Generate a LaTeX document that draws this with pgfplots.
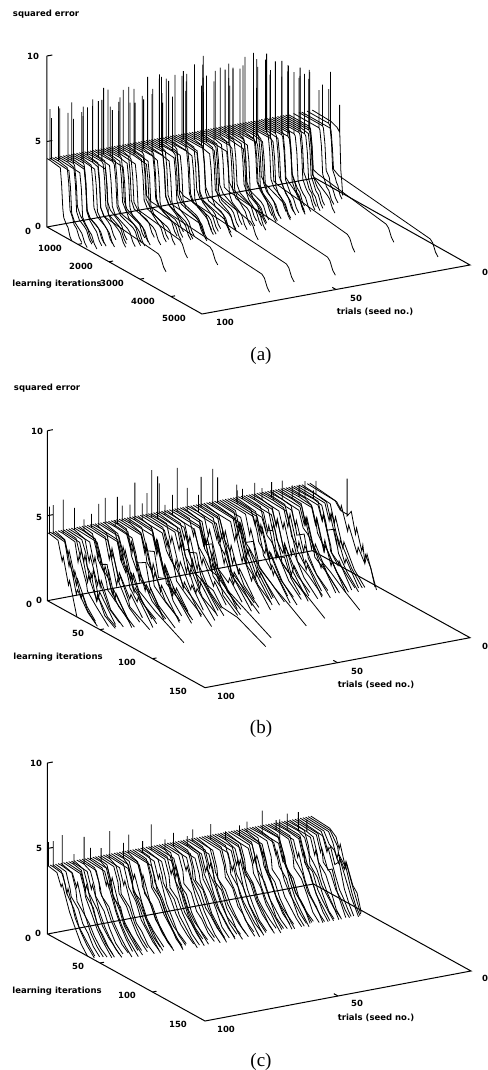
\documentclass[border=0pt]{standalone}
\usepackage{pgfplots}
\pgfplotsset{compat=1.18}
\usepackage{fontspec}
\setmainfont{Liberation Serif}
\newfontfamily\lab{DejaVu Sans Bold}
\pgfplotsset{l/.style={black,line width=0.8pt,no markers},ax/.style={black,line width=1pt,no markers}}
\newcommand\C[2]{\addplot3[l] table[row sep=\\,header=false,x expr=#1,y index=0,z index=1]{#2};}
\newcommand\T[3]{\node[font=\lab\fontsize{8.5}{9}\selectfont,inner sep=0pt] at (#1pt,1070pt-#2pt) {#3};}
\begin{document}
\begin{tikzpicture}[x=1pt,y=1pt]
\path[use as bounding box] (0,0) rectangle (487pt,1070pt);
% ---------- (a)
\begin{axis}[at={(315pt,892pt)},anchor=origin,hide axis,clip=false,x={(-2.68pt,-0.49pt)},y={(0.031pt,-0.0174pt)},z={(0pt,17.1pt)},xmin=0,xmax=100,ymin=0,ymax=5000,zmin=0,zmax=10]
\addplot3[ax] coordinates {(100,0,10)(100,0,0)(100,5000,0)(0,5000,0)(0,0,0)(100,0,0)};
\addplot3[ax] coordinates {(100,0,10)(98,0,10)};
\addplot3[ax] coordinates {(100,0,5)(98,0,5)};
\addplot3[ax] coordinates {(100,1000,0)(98.5,1000,0)};
\addplot3[ax] coordinates {(100,2000,0)(98.5,2000,0)};
\addplot3[ax] coordinates {(100,3000,0)(98.5,3000,0)};
\addplot3[ax] coordinates {(100,4000,0)(98.5,4000,0)};
\addplot3[ax] coordinates {(50,5000,0)(50,4880,0)};
\C{100}{0 4\\100 4\\100 7\\100 4\\430 3.9\\470 3\\510 1.6\\540 1.1\\620 .8\\680 .65\\740 .2\\800 0\\}
\C{99}{0 4\\60 4\\60 6.4\\60 4\\620 3.9\\670 3\\710 1.5\\800 1.1\\960 .8\\1040 .65\\1130 .2\\1210 0\\}
\C{98}{0 4\\200 4\\200 7.2\\200 4\\480 3.9\\530 3\\570 1.5\\660 1.1\\700 .8\\780 .65\\870 .2\\950 0\\}
\C{97}{0 4\\150 4\\150 7\\150 4\\800 3.9\\850 3\\890 1.4\\980 1.1\\1100 .8\\1180 .65\\1270 .2\\1350 0\\}
\C{96}{0 4\\330 4\\330 6.9\\330 4\\520 3.9\\570 3\\610 1.4\\700 1\\850 .8\\930 .65\\1020 .2\\1100 0\\}
\C{95}{0 4\\420 4\\420 6.6\\420 4\\460 3.9\\510 3\\550 1.6\\640 1.2\\800 .8\\880 .65\\970 .2\\1050 0\\}
\C{94}{0 4\\280 4\\280 7.4\\280 4\\680 3.9\\730 3\\770 1.5\\860 1.1\\1000 .8\\1080 .65\\1170 .2\\1250 0\\}
\C{93}{0 4\\250 4\\250 6.2\\250 4\\600 3.9\\650 3\\690 1.5\\790 1.1\\1050 .8\\1130 .65\\1220 .2\\1300 0\\}
\C{92}{0 4\\480 4\\480 7.3\\480 4\\510 3.9\\560 3\\600 1.3\\700 1\\900 .8\\980 .65\\1070 .2\\1150 0\\}
\C{91}{0 4\\340 4\\340 6.8\\340 4\\760 3.9\\810 3\\850 1.5\\950 1.2\\1150 .8\\1230 .65\\1320 .2\\1400 0\\}
\C{90}{0 4\\300 4\\300 6.5\\300 4\\560 3.9\\610 3\\650 1.5\\750 1.1\\1000 .8\\1080 .65\\1170 .2\\1250 0\\}
\C{89}{0 4\\520 4\\520 7.3\\520 4\\690 3.9\\740 3\\780 1.6\\900 1.2\\2640 .8\\2720 .65\\2810 .2\\2888 0\\}
\C{88}{0 4\\430 4\\430 7\\430 4\\850 3.9\\900 3\\940 1.4\\1030 1.1\\1250 .8\\1330 .65\\1420 .2\\1500 0\\}
\C{87}{0 4\\180 4\\180 6.8\\180 4\\520 3.9\\570 3\\610 1.4\\700 1\\850 .8\\930 .65\\1020 .2\\1100 0\\}
\C{86}{0 4\\560 4\\560 7.6\\560 4\\600 3.9\\650 3\\690 1.5\\790 1.1\\1100 .8\\1180 .65\\1270 .2\\1350 0\\}
\C{85}{0 4\\360 4\\360 7.3\\360 4\\720 3.9\\770 3\\810 1.6\\900 1.2\\1300 .8\\1380 .65\\1470 .2\\1550 0\\}
\C{84}{0 4\\90 4\\90 7.1\\90 4\\480 3.9\\530 3\\570 1.6\\660 1.2\\950 .8\\1030 .65\\1120 .2\\1200 0\\}
\C{83}{0 4\\640 4\\640 7\\640 4\\700 3.9\\750 3\\790 1.5\\900 1.1\\1300 .8\\1380 .65\\1470 .2\\1550 0\\}
\C{82}{0 4\\270 4\\270 7.9\\270 4\\900 3.9\\950 3\\990 1.5\\1080 1.1\\1350 .8\\1430 .65\\1520 .2\\1600 0\\}
\C{81}{0 4\\400 4\\400 6.9\\400 4\\560 3.9\\610 3\\650 1.4\\750 1\\1150 .8\\1230 .65\\1320 .2\\1400 0\\}
\C{80}{0 4\\240 4\\240 7.7\\240 4\\620 3.9\\670 3\\710 1.6\\820 1.2\\1350 .8\\1430 .65\\1520 .2\\1600 0\\}
\C{79}{0 4\\500 4\\500 6.7\\500 4\\770 3.9\\820 3\\860 1.4\\950 1\\1200 .8\\1280 .65\\1370 .2\\1450 0\\}
\C{78}{0 4\\450 4\\450 7.4\\450 4\\500 3.9\\550 3\\590 1.5\\680 1.1\\1000 .8\\1080 .65\\1170 .2\\1250 0\\}
\C{77}{0 4\\330 4\\330 7\\330 4\\860 3.9\\910 3\\950 1.5\\1040 1.1\\1430 .8\\1510 .65\\1600 .2\\1680 0\\}
\C{76}{0 4\\600 4\\600 7.2\\600 4\\640 3.9\\690 3\\730 1.5\\850 1.2\\2210 .8\\2290 .65\\2380 .2\\2458 0\\}
\C{75}{0 4\\300 4\\300 7.6\\300 4\\470 3.9\\520 3\\560 1.4\\650 1\\1050 .8\\1130 .65\\1220 .2\\1300 0\\}
\C{74}{0 4\\560 4\\560 7.9\\560 4\\960 3.9\\1010 3\\1050 1.6\\1140 1.2\\1350 .8\\1430 .65\\1520 .2\\1600 0\\}
\C{73}{0 4\\500 4\\500 7\\500 4\\710 3.9\\760 3\\800 1.6\\910 1.2\\1550 .8\\1630 .65\\1720 .2\\1800 0\\}
\C{72}{0 4\\420 4\\420 6.9\\420 4\\840 3.9\\890 3\\930 1.4\\1020 1\\1250 .8\\1330 .65\\1420 .2\\1500 0\\}
\C{71}{0 4\\130 4\\130 7.5\\130 4\\600 3.9\\650 3\\690 1.5\\800 1.2\\2750 .8\\2830 .65\\2920 .2\\3000 0\\}
\C{70}{0 4\\480 4\\480 7.3\\480 4\\530 3.9\\580 3\\620 1.6\\750 1.4\\4340 .8\\4420 .65\\4510 .2\\4587 0\\}
\C{69}{0 4\\710 4\\710 7.6\\710 4\\880 3.9\\930 3\\970 1.5\\1060 1.1\\1400 .8\\1480 .65\\1570 .2\\1650 0\\}
\C{68}{0 4\\350 4\\350 6.9\\350 4\\650 3.9\\700 3\\740 1.5\\850 1.1\\1180 .8\\1260 .65\\1350 .2\\1430 0\\}
\C{67}{0 4\\560 4\\560 7.7\\560 4\\590 3.9\\640 3\\680 1.4\\780 1\\1280 .8\\1360 .65\\1450 .2\\1530 0\\}
\C{66}{0 4\\790 4\\790 7.1\\790 4\\1000 3.9\\1050 3\\1090 1.6\\1180 1.2\\1450 .8\\1530 .65\\1620 .2\\1700 0\\}
\C{65}{0 4\\220 4\\220 8\\220 4\\720 3.9\\770 3\\810 1.6\\920 1.2\\1430 .8\\1510 .65\\1600 .2\\1680 0\\}
\C{64}{0 4\\600 4\\600 7.4\\600 4\\620 3.9\\670 3\\710 1.5\\810 1.1\\1040 .8\\1120 .65\\1210 .2\\1290 0\\}
\C{63}{0 4\\430 4\\430 8.3\\430 4\\900 3.9\\950 3\\990 1.5\\1080 1.1\\1300 .8\\1380 .65\\1470 .2\\1550 0\\}
\C{62}{0 4\\410 4\\410 8.1\\410 4\\530 3.9\\580 3\\620 1.4\\720 1\\1620 .8\\1700 .65\\1790 .2\\1870 0\\}
\C{61}{0 4\\680 4\\680 7.2\\680 4\\760 3.9\\810 3\\850 1.6\\960 1.2\\1550 .8\\1630 .65\\1720 .2\\1800 0\\}
\C{60}{0 4\\160 4\\160 7.7\\160 4\\840 3.9\\890 3\\930 1.4\\1020 1\\1350 .8\\1430 .65\\1520 .2\\1600 0\\}
\C{59}{0 4\\300 4\\300 7.8\\300 4\\640 3.9\\690 3\\730 1.5\\830 1.1\\1280 .8\\1360 .65\\1450 .2\\1530 0\\}
\C{58}{0 4\\500 4\\500 8.2\\500 4\\560 3.9\\610 3\\650 1.6\\780 1.4\\4090 .8\\4170 .65\\4260 .2\\4343 0\\}
\C{57}{0 4\\760 4\\760 7.5\\760 4\\960 3.9\\1010 3\\1050 1.5\\1140 1.1\\1400 .8\\1480 .65\\1570 .2\\1650 0\\}
\C{56}{0 4\\120 4\\120 7.4\\120 4\\700 3.9\\750 3\\790 1.5\\890 1.1\\1400 .8\\1480 .65\\1570 .2\\1650 0\\}
\C{55}{0 4\\620 4\\620 8.3\\620 4\\650 3.9\\700 3\\740 1.4\\840 1\\1170 .8\\1250 .65\\1340 .2\\1420 0\\}
\C{54}{0 4\\380 4\\380 7.9\\380 4\\860 3.9\\910 3\\950 1.6\\1040 1.2\\1300 .8\\1380 .65\\1470 .2\\1550 0\\}
\C{53}{0 4\\430 4\\430 7.6\\430 4\\780 3.9\\830 3\\870 1.6\\980 1.2\\1650 .8\\1730 .65\\1820 .2\\1900 0\\}
\C{52}{0 4\\250 4\\250 8\\250 4\\590 3.9\\640 3\\680 1.5\\780 1.1\\1200 .8\\1280 .65\\1370 .2\\1450 0\\}
\C{51}{0 4\\810 4\\810 7.3\\810 4\\1010 3.9\\1060 3\\1100 1.4\\1190 1\\1450 .8\\1530 .65\\1620 .2\\1700 0\\}
\C{50}{0 4\\660 4\\660 7.5\\660 4\\700 3.9\\750 3\\790 1.4\\890 1\\1290 .8\\1370 .65\\1460 .2\\1540 0\\}
\C{49}{0 4\\350 4\\350 8.4\\350 4\\620 3.9\\670 3\\710 1.6\\820 1.2\\1450 .8\\1530 .65\\1620 .2\\1700 0\\}
\C{48}{0 4\\540 4\\540 7.8\\540 4\\900 3.9\\950 3\\990 1.5\\1080 1.1\\1350 .8\\1430 .65\\1520 .2\\1600 0\\}
\C{47}{0 4\\560 4\\560 7.9\\560 4\\760 3.9\\810 3\\850 1.5\\970 1.3\\1980 .8\\2060 .65\\2150 .2\\2230 0\\}
\C{46}{0 4\\720 4\\720 7.7\\720 4\\780 3.9\\830 3\\870 1.4\\970 1\\1270 .8\\1350 .65\\1440 .2\\1520 0\\}
\C{45}{0 4\\270 4\\270 8.2\\270 4\\1040 3.9\\1090 3\\1130 1.5\\1220 1.1\\1450 .8\\1530 .65\\1620 .2\\1700 0\\}
\C{44}{0 4\\200 4\\200 8.6\\200 4\\640 3.9\\690 3\\730 1.6\\840 1.2\\1200 .8\\1280 .65\\1370 .2\\1450 0\\}
\C{43}{0 4\\500 4\\500 8\\500 4\\700 3.9\\750 3\\790 1.5\\920 1.4\\4120 .8\\4200 .65\\4290 .2\\4375 0\\}
\C{42}{0 4\\880 4\\880 7.5\\880 4\\950 3.9\\1000 3\\1040 1.6\\1130 1.2\\1300 .8\\1380 .65\\1470 .2\\1550 0\\}
\C{41}{0 4\\760 4\\760 7.8\\760 4\\800 3.9\\850 3\\890 1.4\\990 1\\1350 .8\\1430 .65\\1520 .2\\1600 0\\}
\C{40}{0 4\\400 4\\400 8\\400 4\\600 3.9\\650 3\\690 1.6\\810 1.3\\1620 .8\\1700 .65\\1790 .2\\1870 0\\}
\C{39}{0 4\\590 4\\590 8.4\\590 4\\1060 3.9\\1110 3\\1150 1.5\\1240 1.1\\1400 .8\\1480 .65\\1570 .2\\1650 0\\}
\C{38}{0 4\\640 4\\640 8.2\\640 4\\680 3.9\\730 3\\770 1.5\\870 1.1\\1150 .8\\1230 .65\\1320 .2\\1400 0\\}
\C{37}{0 4\\300 4\\300 7.7\\300 4\\820 3.9\\870 3\\910 1.6\\1020 1.2\\1370 .8\\1450 .65\\1540 .2\\1620 0\\}
\C{36}{0 4\\470 4\\470 7.9\\470 4\\930 3.9\\980 3\\1020 1.4\\1110 1\\1300 .8\\1380 .65\\1470 .2\\1550 0\\}
\C{35}{0 4\\700 4\\700 8.3\\700 4\\740 3.9\\790 3\\830 1.4\\930 1\\1080 .8\\1160 .65\\1250 .2\\1330 0\\}
\C{34}{0 4\\520 4\\520 7.9\\520 4\\650 3.9\\700 3\\740 1.5\\840 1.1\\1200 .8\\1280 .65\\1370 .2\\1450 0\\}
\C{33}{0 4\\970 4\\970 7.2\\970 4\\1000 3.9\\1050 3\\1090 1.6\\1180 1.2\\1350 .8\\1430 .65\\1520 .2\\1600 0\\}
\C{32}{0 4\\780 4\\780 8.1\\780 4\\840 3.9\\890 3\\930 1.6\\1040 1.2\\1300 .8\\1380 .65\\1470 .2\\1550 0\\}
\C{31}{0 4\\420 4\\420 8.4\\420 4\\720 3.9\\770 3\\810 1.5\\910 1.1\\1050 .8\\1130 .65\\1220 .2\\1300 0\\}
\C{30}{0 4\\610 4\\610 8.8\\610 4\\900 3.9\\950 3\\990 1.5\\1080 1.1\\1250 .8\\1330 .65\\1420 .2\\1500 0\\}
\C{29}{0 4\\660 4\\660 8\\660 4\\760 3.9\\810 3\\850 1.4\\950 1\\1100 .8\\1180 .65\\1270 .2\\1350 0\\}
\C{28}{0 4\\540 4\\540 8.3\\540 4\\600 3.9\\650 3\\690 1.6\\800 1.3\\1380 .8\\1460 .65\\1550 .2\\1626 0\\}
\C{27}{0 4\\900 4\\900 8\\900 4\\980 3.9\\1030 3\\1070 1.4\\1160 1\\1300 .8\\1380 .65\\1470 .2\\1550 0\\}
\C{26}{0 4\\800 4\\800 7.6\\800 4\\830 3.9\\880 3\\920 1.5\\1060 1.4\\3290 .8\\3370 .65\\3460 .2\\3535 0\\}
\C{25}{0 4\\600 4\\600 8.6\\600 4\\650 3.9\\700 3\\740 1.4\\840 1\\1000 .8\\1080 .65\\1170 .2\\1230 0\\}
\C{24}{0 4\\480 4\\480 8.1\\480 4\\880 3.9\\930 3\\970 1.6\\1060 1.2\\1200 .8\\1280 .65\\1370 .2\\1450 0\\}
\C{23}{0 4\\710 4\\710 8.2\\710 4\\740 3.9\\790 3\\830 1.6\\940 1.2\\1050 .8\\1130 .65\\1220 .2\\1300 0\\}
\C{22}{0 4\\830 4\\830 7.4\\830 4\\860 3.9\\910 3\\950 1.5\\1050 1.1\\1130 .8\\1210 .65\\1300 .2\\1380 0\\}
\C{21}{0 4\\940 4\\940 7.8\\940 4\\990 3.9\\1040 3\\1080 1.5\\1170 1.1\\1250 .8\\1330 .65\\1420 .2\\1500 0\\}
\C{20}{0 4\\660 4\\660 8.1\\660 4\\700 3.9\\750 3\\790 1.4\\900 1.2\\1150 .8\\1230 .65\\1320 .2\\1400 0\\}
\C{19}{0 4\\790 4\\790 7.9\\790 4\\820 3.9\\870 3\\910 1.6\\1010 1.2\\1050 .8\\1130 .65\\1220 .2\\1290 0\\}
\C{18}{0 4\\880 4\\880 7.6\\880 4\\920 3.9\\970 3\\1010 1.4\\1100 1\\1170 .8\\1250 .65\\1340 .2\\1420 0\\}
\C{17}{0 4\\600 4\\600 7.7\\600 4\\640 3.9\\690 3\\730 1.5\\820 1.1\\900 .8\\980 .65\\1060 .2\\1130 0\\}
\C{16}{0 4\\870 4\\870 7.2\\870 4\\900 3.9\\950 3\\990 1.4\\1080 1\\1150 .8\\1230 .65\\1310 .2\\1380 0\\}
\C{15}{0 4\\960 4\\960 7.5\\960 4\\1000 3.9\\1050 3\\1090 1.5\\1170 1.1\\1230 .8\\1310 .65\\1390 .2\\1460 0\\}
\C{14}{0 4\\730 4\\730 7.6\\730 4\\760 3.9\\810 3\\850 1.6\\950 1.2\\1020 .8\\1100 .65\\1180 .2\\1250 0\\}
\C{13}{0 4\\640 4\\640 7\\640 4\\910 3.9\\960 3\\1000 1.5\\1090 1.1\\1150 .8\\1230 .65\\1310 .2\\1380 0\\}
\C{12}{0 4\\840 4\\840 7\\840 4\\870 3.9\\920 3\\960 1.5\\1070 1.3\\1430 .8\\1510 .65\\1600 .2\\1680 0\\}
\C{11}{0 4\\780 4\\780 7.3\\780 4\\800 3.9\\850 3\\890 1.4\\970 1\\1030 .8\\1110 .65\\1190 .2\\1260 0\\}
\C{10}{0 4\\680 4\\680 7.3\\680 4\\720 3.9\\770 3\\810 1.6\\950 1.5\\3160 .8\\3240 .65\\3330 .2\\3410 0\\}
\C{8}{0 4\\820 4\\820 6.2\\820 4\\850 3.9\\900 3\\940 1.4\\1030 1\\1060 .8\\1140 .65\\1220 .2\\1300 0\\}
\C{6}{0 4\\760 4\\760 6.4\\760 4\\790 3.9\\840 3\\880 1.5\\980 1.2\\1010 .8\\1090 .65\\1180 .2\\1260 0\\}
\C{5}{0 4\\930 4\\930 7.3\\930 4\\950 3.9\\990 3\\1030 1.7\\1200 1.5\\4150 .8\\4230 .65\\4320 .2\\4400 0\\}
\C{3}{0 4\\700 4\\700 6\\700 4\\740 3.9\\790 3\\830 1.4\\920 1\\950 .8\\1000 .65\\1060 .2\\1130 0\\}
\C{1}{0 4\\600 3.95\\800 3.8\\880 3.6\\880 5.2\\885 3.6\\920 1.4\\950 .8\\980 0\\}
\end{axis}
% ---------- (b)
\begin{axis}[at={(312.5pt,519.3pt)},anchor=origin,hide axis,clip=false,x={(-2.65pt,-0.5pt)},y={(1.05pt,-0.58pt)},z={(0pt,17pt)},xmin=0,xmax=100,ymin=0,ymax=150,zmin=0,zmax=10]
\addplot3[ax] coordinates {(100,0,10)(100,0,0)(100,150,0)(0,150,0)(0,0,0)(100,0,0)};
\addplot3[ax] coordinates {(100,0,10)(98,0,10)};
\addplot3[ax] coordinates {(100,0,5)(98,0,5)};
\addplot3[ax] coordinates {(100,50,0)(98.5,50,0)};
\addplot3[ax] coordinates {(100,100,0)(98.5,100,0)};
\addplot3[ax] coordinates {(50,150,0)(50,146,0)};
\C{100}{0 4\\2 4\\2 5.6\\2 4\\10 3.9\\14 2.8\\15 3.1\\20 1.6\\21 1.9\\28 0\\}
\C{99}{0 4\\3 4\\3 5.7\\3 4\\14 3.9\\18 2.6\\19 2.9\\25 1.2\\26 1.5\\36 .5\\45 0\\}
\C{98}{0 4\\11 3.9\\15 3.1\\16 2.7\\20 2\\21 2.4\\27 1\\28 1.3\\33 .5\\41 0\\}
\C{97}{0 4\\9 3.8\\12 3\\13 3.3\\20 1.5\\21 1.9\\30 .6\\38 0\\}
\C{96}{0 4\\5 4\\5 6\\5 4\\16 3.9\\19 2.8\\20 3.2\\27 1.8\\28 1.4\\36 .8\\48 0\\}
\C{95}{0 4\\18 3.9\\22 2.9\\23 3.3\\28 2\\29 2.4\\34 1\\35 1.4\\42 .4\\52 0\\}
\C{94}{0 4\\12 3.9\\16 3\\17 3.4\\23 1.7\\24 2.1\\32 .9\\33 1.2\\42 .3\\50 0\\}
\C{93}{0 4\\15 3.9\\19 3.2\\20 2.5\\25 2\\26 2.5\\31 1\\32 1.4\\47 0\\}
\C{92}{0 4\\20 3.9\\24 2.8\\25 3.2\\30 1.6\\31 2\\40 .6\\52 0\\}
\C{91}{0 4\\3 4\\3 5.3\\3 4\\13 3.8\\17 2.6\\18 3\\25 1.5\\26 1.9\\36 .5\\46 0\\}
\C{90}{0 4\\22 3.9\\26 3\\27 2.5\\32 2.2\\33 2.6\\39 1.1\\40 1.5\\55 0\\}
\C{89}{0 4\\7 4\\7 4.7\\7 4\\18 3.9\\22 3\\23 2.6\\29 2.8\\33 1.4\\40 .7\\55 0\\}
\C{88}{0 4\\15 3.8\\18 2.8\\19 3.2\\26 1.6\\27 1.2\\38 .6\\48 0\\}
\C{87}{0 4\\10 3.9\\14 3\\15 2.6\\21 2\\22 2.4\\29 1\\30 1.3\\44 0\\}
\C{86}{0 4\\22 3.9\\26 3\\27 3.3\\33 1.9\\34 2.2\\42 1\\43 .7\\54 .3\\62 0\\}
\C{85}{0 4\\4 4\\4 4.8\\4 4\\17 3.9\\21 2.7\\22 3.1\\28 1.4\\29 1.8\\40 .5\\50 0\\}
\C{84}{0 4\\26 3.9\\30 2.9\\31 3.3\\37 2\\38 1.6\\45 1\\46 1.3\\60 0\\}
\C{83}{0 4\\6 4\\6 5.4\\6 4\\24 3.9\\28 3\\30 2.6\\38 2\\39 2.4\\44 1.6\\60 .9\\87 0\\}
\C{82}{0 4\\11 3.8\\15 2.7\\16 3.1\\22 1.5\\23 1.9\\33 .7\\34 1\\45 0\\}
\C{81}{0 4\\20 3.9\\25 2.9\\26 3.3\\33 1.7\\34 1.3\\44 .7\\56 0\\}
\C{80}{0 4\\14 3.9\\18 3\\19 2.5\\24 1.9\\25 2.3\\32 1\\33 1.3\\49 0\\}
\C{79}{0 4\\2 4\\2 5.5\\2 4\\14 3.8\\18 2.8\\19 3.2\\26 1.5\\27 1.9\\38 .5\\50 0\\}
\C{78}{0 4\\9 4\\9 4.4\\9 4\\25 3.9\\29 3\\30 2.6\\38 2.9\\42 1.6\\50 .8\\66 0\\}
\C{77}{0 4\\17 3.9\\21 3.1\\22 2.7\\27 2\\28 2.5\\35 1.1\\36 1.5\\53 0\\}
\C{76}{0 4\\6 4\\6 5.6\\6 4\\16 3.9\\20 2.8\\21 3.2\\27 1.4\\28 1.8\\39 .6\\52 0\\}
\C{75}{0 4\\12 3.9\\16 2.9\\17 3.3\\24 1.8\\25 1.4\\34 .9\\35 1.2\\46 0\\}
\C{74}{0 4\\24 3.9\\28 3\\29 2.5\\34 2.1\\35 2.6\\42 1.2\\43 1.6\\60 0\\}
\C{73}{0 4\\3 4\\3 4.9\\3 4\\21 3.9\\25 3\\26 3.4\\33 1.6\\34 2\\44 .7\\58 0\\}
\C{72}{0 4\\8 4\\8 5.1\\8 4\\18 3.8\\22 2.7\\23 3.1\\30 1.5\\31 1.1\\42 .5\\54 0\\}
\C{71}{0 4\\27 3.9\\31 2.9\\32 3.3\\38 1.9\\39 2.3\\46 1\\47 1.3\\64 0\\}
\C{70}{0 4\\14 3.9\\18 3\\19 2.7\\26 2.9\\30 1.5\\38 1.7\\44 .6\\52 0\\}
\C{69}{0 4\\5 4\\5 6.2\\5 4\\22 3.9\\26 2.9\\27 3.3\\34 1.7\\35 1.3\\46 .8\\60 0\\}
\C{68}{0 4\\19 3.9\\23 3\\24 3.4\\30 1.8\\31 2.2\\38 .9\\39 1.2\\55 0\\}
\C{67}{0 4\\7 4\\7 5\\7 4\\26 3.9\\30 3\\34 2.6\\40 2.2\\46 1.5\\58 .9\\73 0\\}
\C{66}{0 4\\13 3.8\\17 2.8\\18 3.2\\25 1.6\\26 2\\36 .7\\37 1\\48 0\\}
\C{65}{0 4\\23 3.9\\27 3.1\\28 2.6\\33 2\\34 2.5\\41 1.1\\42 1.5\\58 0\\}
\C{64}{0 4\\4 4\\4 5.4\\4 4\\19 3.9\\23 2.9\\24 3.3\\31 1.6\\32 1.2\\43 .6\\56 0\\}
\C{63}{0 4\\6 4\\6 6.8\\6 4\\28 3.9\\32 3\\33 3.4\\39 1.9\\40 2.3\\48 1\\49 1.3\\66 0\\}
\C{62}{0 4\\9 4\\9 6.5\\9 4\\30 3.9\\34 3\\38 3.2\\46 2\\52 1.8\\62 1.6\\70 .9\\85 .8\\112 0\\}
\C{61}{0 4\\15 3.9\\19 2.9\\20 3.3\\27 1.7\\28 2.1\\38 .8\\39 1.1\\50 0\\}
\C{60}{0 4\\25 3.9\\29 3\\30 2.5\\36 2\\37 2.5\\44 1\\45 1.4\\61 0\\}
\C{59}{0 4\\3 4\\3 5.8\\3 4\\20 3.8\\24 2.7\\25 3.1\\32 1.4\\33 1.8\\44 .5\\57 0\\}
\C{58}{0 4\\6 4\\6 4.6\\6 4\\24 3.9\\28 3\\29 2.6\\36 2.8\\40 1.6\\48 .9\\62 0\\}
\C{57}{0 4\\18 3.9\\22 3.1\\23 3.5\\29 2\\30 1.6\\37 1\\38 1.3\\54 0\\}
\C{56}{0 4\\8 4\\8 5.2\\8 4\\28 3.9\\33 3\\38 2.6\\44 2\\50 1.9\\60 1.4\\75 .9\\102 0\\}
\C{55}{0 4\\17 3.8\\21 2.8\\22 3.2\\29 1.5\\30 1.9\\41 .6\\52 0\\}
\C{54}{0 4\\29 3.9\\33 3\\34 3.4\\40 1.8\\41 2.2\\50 1\\51 .7\\65 0\\}
\C{53}{0 4\\5 4\\5 6.6\\5 4\\26 3.9\\30 2.9\\31 3.3\\38 1.8\\39 1.4\\50 .8\\65 0\\}
\C{52}{0 4\\14 3.9\\18 3\\19 3.4\\26 1.6\\27 2\\37 .7\\38 1\\49 0\\}
\C{51}{0 4\\21 3.9\\25 3\\26 2.5\\32 2\\33 2.5\\40 1.1\\41 1.5\\57 0\\}
\C{50}{0 4\\7 4\\7 5.4\\7 4\\21 3.9\\25 2.7\\26 3.1\\33 1.5\\34 1.9\\45 .6\\58 0\\}
\C{49}{0 4\\16 3.8\\20 2.9\\21 2.5\\28 2.8\\32 1.4\\40 .7\\52 0\\}
\C{48}{0 4\\26 3.9\\30 3.1\\31 3.5\\37 1.9\\38 2.3\\46 1\\47 1.3\\63 0\\}
\C{47}{0 4\\10 4\\10 5\\10 4\\27 3.9\\31 3\\32 3.4\\40 1.8\\41 1.4\\52 .8\\68 0\\}
\C{46}{0 4\\13 3.8\\17 2.8\\18 3.2\\25 1.6\\26 1.2\\36 .7\\37 1\\49 0\\}
\C{45}{0 4\\19 3.9\\23 3\\24 2.6\\30 2.1\\31 2.5\\38 1\\39 1.4\\56 0\\}
\C{44}{0 4\\5 4\\5 5.8\\5 4\\23 3.9\\27 3\\28 3.4\\35 1.7\\36 2.1\\46 .8\\60 0\\}
\C{43}{0 4\\18 3.9\\22 2.8\\23 3.2\\30 1.5\\31 1.1\\42 .6\\53 0\\}
\C{42}{0 4\\28 3.9\\32 2.9\\33 3.3\\39 1.9\\40 2.3\\48 1.1\\49 1.4\\66 0\\}
\C{41}{0 4\\14 3.8\\18 3\\19 2.6\\25 2\\26 2.4\\33 1\\34 1.3\\48 0\\}
\C{40}{0 4\\6 4\\6 6.2\\6 4\\32 3.9\\36 3\\41 2.7\\47 2.2\\53 1.8\\65 1.2\\78 .7\\95 0\\}
\C{39}{0 4\\24 3.9\\28 3.1\\29 3.5\\35 1.9\\36 1.5\\44 1\\45 1.3\\60 0\\}
\C{38}{0 4\\20 3.8\\24 2.7\\25 3.1\\32 1.5\\33 1.9\\44 .6\\56 0\\}
\C{37}{0 4\\3 4\\3 5.5\\3 4\\25 3.9\\29 3\\30 2.6\\37 2.9\\41 1.5\\49 .9\\62 0\\}
\C{36}{0 4\\16 3.9\\20 3\\21 3.4\\28 1.7\\29 2.1\\37 .9\\38 1.2\\52 0\\}
\C{35}{0 4\\15 3.9\\19 2.9\\20 3.3\\27 1.7\\28 2.1\\38 .8\\39 1.1\\51 0\\}
\C{34}{0 4\\22 3.9\\26 2.8\\27 3.2\\34 1.6\\35 1.2\\46 .7\\59 0\\}
\C{33}{0 4\\27 3.9\\31 3\\32 2.6\\38 2.1\\39 2.5\\46 1.1\\47 1.4\\62 0\\}
\C{32}{0 4\\9 4\\9 4.8\\9 4\\28 3.9\\32 3\\33 3.4\\40 1.8\\41 2.2\\52 .9\\66 0\\}
\C{31}{0 4\\6 4\\6 5\\6 4\\30 3.9\\35 3\\39 2.8\\46 2.1\\52 1.7\\62 1.2\\74 .7\\90 0\\}
\C{30}{0 4\\17 3.9\\21 3.1\\22 3.5\\28 2\\29 1.6\\36 1\\37 1.3\\52 0\\}
\C{29}{0 4\\19 3.8\\23 2.8\\24 3.2\\31 1.5\\32 1.9\\43 .6\\55 0\\}
\C{28}{0 4\\4 4\\4 4.6\\4 4\\24 3.9\\28 2.9\\29 3.3\\36 1.6\\37 2\\48 .7\\60 0\\}
\C{27}{0 4\\29 3.9\\33 3\\34 2.6\\40 2\\41 2.4\\48 1\\49 1.3\\64 0\\}
\C{26}{0 4\\16 3.9\\20 3\\21 2.7\\28 2.9\\32 1.5\\39 1.7\\45 .7\\54 0\\}
\C{25}{0 4\\8 4\\8 5\\8 4\\21 3.9\\25 2.8\\26 3.2\\33 1.6\\34 1.2\\45 .6\\57 0\\}
\C{24}{0 4\\22 3.9\\26 3.1\\27 3.5\\33 1.9\\34 2.3\\42 1\\43 1.3\\57 0\\}
\C{23}{0 4\\10 4\\10 4.7\\10 4\\26 3.9\\30 3\\31 3.4\\38 1.7\\39 2.1\\50 .8\\63 0\\}
\C{22}{0 4\\17 3.8\\21 2.8\\22 3.2\\29 1.5\\30 1.9\\41 .6\\53 0\\}
\C{21}{0 4\\28 3.9\\32 3\\33 2.6\\39 2.1\\40 2.5\\47 1.1\\48 1.4\\62 0\\}
\C{20}{0 4\\13 4\\13 4.6\\13 4\\23 3.9\\27 2.9\\28 3.3\\35 1.6\\36 1.2\\47 .7\\60 0\\}
\C{19}{0 4\\9 4\\9 4.9\\9 4\\28 3.9\\32 3\\33 2.6\\40 2.9\\44 1.6\\52 .9\\65 0\\}
\C{18}{0 4\\19 3.9\\23 3.1\\24 3.5\\30 2\\31 1.6\\38 1\\39 1.3\\54 0\\}
\C{17}{0 4\\14 4\\14 5.1\\14 4\\30 3.9\\34 3\\38 2.8\\45 2.2\\50 1.7\\60 1.3\\72 .7\\88 0\\}
\C{16}{0 4\\20 3.8\\24 2.7\\25 3.1\\32 1.5\\33 1.9\\44 .6\\55 0\\}
\C{15}{0 4\\26 3.9\\30 3\\31 3.4\\37 1.8\\38 2.2\\46 1\\47 1.3\\60 0\\}
\C{14}{0 4\\16 4\\16 4.8\\16 4\\25 3.9\\29 3\\30 3.4\\37 1.7\\38 2.1\\49 .8\\61 0\\}
\C{13}{0 4\\22 3.9\\26 2.8\\27 3.2\\34 1.6\\35 1.2\\46 .7\\57 0\\}
\C{12}{0 4\\30 3.9\\34 3\\35 2.6\\41 2\\42 2.4\\48 1.1\\49 1.4\\62 0\\}
\C{11}{0 4\\15 4\\15 4.7\\15 4\\27 3.9\\31 2.9\\32 3.3\\39 1.6\\40 2\\51 .8\\62 0\\}
\C{10}{0 4\\18 4\\18 5\\18 4\\24 3.8\\28 2.8\\29 3.2\\36 1.5\\37 1.9\\48 .7\\58 0\\}
\C{9}{0 4\\28 3.9\\32 3.1\\33 3.5\\39 2\\40 1.6\\47 1\\48 1.3\\60 0\\}
\C{8}{0 4\\21 4\\21 4.5\\21 4\\29 3.9\\33 3\\34 2.6\\41 2.9\\45 1.6\\53 .8\\64 0\\}
\C{7}{0 4\\23 3.9\\27 2.9\\28 3.3\\35 1.7\\36 1.3\\47 .7\\58 0\\}
\C{6}{0 4\\27 3.9\\31 3\\32 3.4\\38 1.9\\39 2.3\\46 1\\47 1.3\\59 0\\}
\C{5}{0 4\\16 4\\16 4.8\\16 4\\26 3.9\\30 3\\31 3.4\\38 1.7\\39 2.1\\50 .8\\60 0\\}
\C{4}{0 4\\27 3.8\\31 2.8\\32 3.2\\39 1.6\\40 2\\50 .7\\60 0\\}
\C{2}{0 4\\28 3.9\\33 3.5\\38 3.5\\38 5.6\\38 3.4\\42 3.8\\46 2.6\\47 3\\52 1.8\\53 2.2\\55 1.2\\57 1.8\\62 .8\\66 0\\}
\C{1}{0 4\\24 3.8\\29 3.4\\30 3.7\\36 2.4\\37 2.8\\45 1.4\\46 1.8\\52 1.1\\53 1.6\\58 1\\62 0\\}
\end{axis}
% ---------- (c)
\begin{axis}[at={(313.5pt,186pt)},anchor=origin,hide axis,clip=false,x={(-2.66pt,-0.5pt)},y={(1.05pt,-0.58pt)},z={(0pt,17.1pt)},xmin=0,xmax=100,ymin=0,ymax=150,zmin=0,zmax=10]
\addplot3[ax] coordinates {(100,0,10)(100,0,0)(100,150,0)(0,150,0)(0,0,0)(100,0,0)};
\addplot3[ax] coordinates {(100,0,10)(98,0,10)};
\addplot3[ax] coordinates {(100,0,5)(98,0,5)};
\addplot3[ax] coordinates {(100,50,0)(98.5,50,0)};
\addplot3[ax] coordinates {(100,100,0)(98.5,100,0)};
\addplot3[ax] coordinates {(50,150,0)(50,146,0)};
\C{100}{0 4\\1 4\\1 5.4\\1 4\\9 3.9\\13 3.2\\14 3.4\\21 2\\26 1.3\\32 .5\\38 0\\}
\C{99}{0 4\\3 4\\3 5.5\\3 4\\12 3.9\\16 2.9\\17 3.2\\24 1.7\\29 1.1\\35 .5\\42 0\\}
\C{98}{0 4\\8 3.9\\12 3.2\\13 2.8\\20 2.1\\25 1.2\\31 .7\\40 0\\}
\C{97}{0 4\\10 3.9\\14 3\\15 2.6\\22 2.1\\26 1.4\\31 1\\36 .4\\42 0\\}
\C{96}{0 4\\4 4\\4 5.8\\4 4\\13 3.9\\17 3\\18 2.4\\26 1.8\\31 1\\37 .4\\43 0\\}
\C{95}{0 4\\11 3.8\\15 3.1\\16 3.4\\23 1.7\\27 1.4\\32 .8\\38 .3\\44 0\\}
\C{94}{0 4\\16 3.9\\20 3.1\\21 2.7\\27 1.9\\32 1.2\\37 .7\\46 0\\}
\C{93}{0 4\\14 3.9\\18 3.1\\19 2.7\\26 2.2\\30 1.3\\35 .9\\40 .4\\46 0\\}
\C{92}{0 4\\5 4\\5 4.6\\5 4\\12 3.9\\16 2.9\\17 3.2\\24 1.8\\29 1\\35 .4\\42 0\\}
\C{91}{0 4\\15 3.9\\19 3\\20 3.3\\27 1.9\\32 1.2\\36 .8\\42 .3\\48 0\\}
\C{90}{0 4\\9 3.8\\13 3\\14 2.6\\22 1.9\\27 1.1\\33 .6\\43 0\\}
\C{89}{0 4\\7 4\\7 5.6\\7 4\\13 3.8\\17 3\\18 2.5\\26 1.9\\31 1.1\\37 .4\\44 0\\}
\C{88}{0 4\\16 3.9\\20 3\\21 2.6\\28 2.2\\33 1.4\\38 .9\\44 .4\\50 0\\}
\C{87}{0 4\\12 3.9\\16 3.2\\17 2.7\\24 1.9\\28 1.3\\33 .8\\38 .3\\44 0\\}
\C{86}{0 4\\19 3.9\\23 3.1\\24 3.4\\30 2\\35 1.3\\41 .7\\51 0\\}
\C{85}{0 4\\3 4\\3 4.7\\3 4\\14 3.9\\18 3\\19 3.3\\27 1.8\\31 1.2\\37 .5\\43 0\\}
\C{84}{0 4\\17 3.9\\21 3\\22 2.4\\29 2.1\\33 1.2\\39 .8\\45 .3\\50 0\\}
\C{83}{0 4\\8 4\\8 4.8\\8 4\\13 3.8\\17 2.9\\18 2.6\\26 1.7\\30 1\\36 .5\\43 0\\}
\C{82}{0 4\\11 3.9\\15 3\\16 3.3\\23 1.8\\28 1.1\\34 .6\\44 0\\}
\C{81}{0 4\\15 3.9\\19 3.1\\20 2.5\\27 2\\32 1.3\\37 .7\\42 .3\\47 0\\}
\C{80}{0 4\\18 3.9\\22 3\\23 3.3\\30 1.9\\34 1.2\\39 .9\\45 .3\\51 0\\}
\C{79}{0 4\\6 4\\6 5.6\\6 4\\12 3.8\\16 3\\17 2.3\\25 1.8\\30 1\\36 .4\\42 0\\}
\C{78}{0 4\\21 3.9\\25 3.1\\26 2.7\\32 2\\37 1.2\\43 .7\\52 0\\}
\C{77}{0 4\\14 3.9\\18 3\\19 2.7\\26 2.1\\31 1.2\\36 .8\\42 .3\\48 0\\}
\C{76}{0 4\\16 3.9\\20 3.1\\21 2.5\\28 2.2\\33 1.3\\38 .9\\43 .4\\49 0\\}
\C{75}{0 4\\9 4\\9 4.9\\9 4\\13 3.8\\17 3\\18 2.6\\26 1.7\\31 1.1\\37 .4\\44 0\\}
\C{74}{0 4\\12 3.9\\16 3\\17 3.3\\24 1.9\\29 1.1\\35 .6\\45 0\\}
\C{73}{0 4\\19 3.9\\23 3\\24 2.4\\31 2\\36 1.3\\40 .8\\46 .3\\52 0\\}
\C{72}{0 4\\15 3.9\\19 3\\20 3.3\\27 1.9\\32 1.1\\37 .8\\43 .3\\48 0\\}
\C{71}{0 4\\4 4\\4 5.1\\4 4\\12 3.8\\16 3\\17 2.5\\25 1.7\\30 1\\36 .4\\43 0\\}
\C{70}{0 4\\23 3.9\\27 3.1\\28 2.7\\34 2\\39 1.2\\45 .7\\53 0\\}
\C{69}{0 4\\17 3.9\\21 3.1\\22 2.6\\29 2.2\\34 1.4\\39 .9\\44 .3\\50 0\\}
\C{68}{0 4\\13 3.9\\17 3\\18 2.4\\25 1.9\\30 1.2\\35 .8\\41 .3\\47 0\\}
\C{67}{0 4\\7 4\\7 4.7\\7 4\\18 3.9\\22 3\\23 3.3\\30 1.8\\35 1.2\\41 .4\\48 0\\}
\C{66}{0 4\\11 3.9\\15 3\\16 2.6\\23 1.9\\28 1.2\\34 .6\\46 0\\}
\C{65}{0 4\\20 3.9\\24 3\\25 2.5\\32 2.1\\37 1.3\\42 .9\\48 .4\\54 0\\}
\C{64}{0 4\\14 3.8\\18 3\\19 2.6\\26 1.9\\31 1.2\\36 .7\\42 .3\\48 0\\}
\C{63}{0 4\\5 4\\5 5.5\\5 4\\18 3.9\\22 3.1\\23 2.4\\30 2\\35 1.3\\44 .4\\51 0\\}
\C{62}{0 4\\22 3.9\\26 3.1\\27 3.4\\33 2\\38 1.2\\44 .7\\53 0\\}
\C{61}{0 4\\15 3.9\\19 3\\20 3.3\\28 1.8\\32 1.2\\38 .8\\44 .3\\49 0\\}
\C{60}{0 4\\19 3.9\\23 3\\24 2.6\\31 2.2\\36 1.3\\41 .8\\46 .4\\52 0\\}
\C{59}{0 4\\8 4\\8 4.6\\8 4\\13 3.8\\17 3\\18 2.5\\26 1.8\\31 1\\37 .4\\44 0\\}
\C{58}{0 4\\11 3.9\\15 3\\16 3.3\\23 1.9\\28 1.1\\34 .6\\46 0\\}
\C{57}{0 4\\16 3.9\\20 3.1\\21 2.4\\28 2.1\\33 1.2\\38 .9\\44 .3\\50 0\\}
\C{56}{0 4\\21 3.9\\25 3\\26 2.7\\33 2\\38 1.3\\43 .8\\48 .3\\53 0\\}
\C{55}{0 4\\6 4\\6 4.8\\6 4\\14 3.8\\18 3\\19 3.3\\27 1.8\\32 1.1\\38 .4\\45 0\\}
\C{54}{0 4\\24 3.9\\28 3.1\\29 2.7\\35 2\\40 1.2\\46 .7\\54 0\\}
\C{53}{0 4\\17 3.9\\21 3\\22 2.5\\29 2.2\\34 1.3\\39 .8\\45 .3\\50 0\\}
\C{52}{0 4\\12 3.9\\16 3.1\\17 2.4\\24 1.9\\29 1.1\\34 .8\\40 .3\\47 0\\}
\C{51}{0 4\\9 4\\9 4.6\\9 4\\19 3.9\\23 3\\24 2.6\\31 2\\36 1.3\\42 .4\\49 0\\}
\C{50}{0 4\\20 3.9\\24 3\\25 3.3\\32 1.9\\37 1.2\\43 .7\\52 0\\}
\C{49}{0 4\\15 3.8\\19 3\\20 2.7\\27 1.9\\32 1.2\\37 .8\\43 .3\\49 0\\}
\C{48}{0 4\\22 3.9\\26 3.1\\27 2.5\\34 2.2\\39 1.3\\44 .9\\49 .3\\54 0\\}
\C{47}{0 4\\4 4\\4 4.7\\4 4\\16 3.9\\20 3\\21 3.3\\28 1.9\\33 1.2\\39 .4\\46 0\\}
\C{46}{0 4\\11 3.9\\15 3.1\\16 2.7\\23 2\\28 1.2\\34 .6\\47 0\\}
\C{45}{0 4\\18 3.9\\22 3\\23 2.4\\30 2\\35 1.3\\40 .8\\46 .3\\52 0\\}
\C{44}{0 4\\13 3.8\\17 3\\18 2.6\\25 1.8\\30 1.1\\35 .7\\41 .3\\47 0\\}
\C{43}{0 4\\20 3.9\\24 3.1\\25 2.5\\32 2.1\\37 1.2\\42 .9\\48 .3\\53 0\\}
\C{42}{0 4\\25 3.9\\29 3\\30 3.3\\36 1.9\\41 1.2\\47 .7\\55 0\\}
\C{41}{0 4\\6 4\\6 4.9\\6 4\\16 3.9\\20 3\\21 2.6\\28 1.9\\33 1.2\\39 .4\\47 0\\}
\C{40}{0 4\\23 3.9\\27 3\\28 2.7\\35 2.1\\40 1.3\\45 .8\\50 .3\\54 0\\}
\C{39}{0 4\\15 3.9\\19 3.1\\20 2.4\\27 1.9\\32 1.2\\37 .8\\43 .3\\50 0\\}
\C{38}{0 4\\19 3.9\\23 3\\24 3.3\\30 1.8\\35 1.1\\41 .6\\51 0\\}
\C{37}{0 4\\10 4\\10 4.5\\10 4\\19 3.8\\23 3\\24 3.3\\31 1.8\\36 1.1\\42 .4\\49 0\\}
\C{36}{0 4\\21 3.9\\25 3\\26 2.5\\33 2.2\\38 1.3\\43 .9\\49 .3\\54 0\\}
\C{35}{0 4\\17 3.9\\21 3.1\\22 2.7\\29 2\\34 1.2\\40 .6\\50 0\\}
\C{34}{0 4\\24 3.9\\28 3.1\\29 2.6\\36 2\\41 1.2\\46 .8\\51 .3\\55 0\\}
\C{33}{0 4\\14 3.8\\18 3\\19 2.4\\26 1.9\\31 1.1\\36 .7\\42 .3\\48 0\\}
\C{32}{0 4\\20 3.9\\24 3\\25 3.3\\31 1.9\\36 1.2\\42 .7\\51 0\\}
\C{31}{0 4\\8 4\\8 4.6\\8 4\\20 3.9\\24 3\\25 2.6\\32 2.1\\37 1.3\\43 .4\\50 0\\}
\C{30}{0 4\\17 3.9\\21 3\\22 3.3\\29 1.9\\34 1.2\\39 .8\\45 .3\\51 0\\}
\C{29}{0 4\\23 3.9\\27 3.1\\28 2.7\\34 2\\39 1.2\\45 .7\\53 0\\}
\C{28}{0 4\\22 3.9\\26 3\\27 2.5\\34 2.1\\39 1.3\\44 .8\\49 .3\\53 0\\}
\C{27}{0 4\\5 4\\5 4.6\\5 4\\16 3.8\\20 3\\21 2.6\\28 1.8\\33 1.1\\39 .4\\46 0\\}
\C{26}{0 4\\13 3.9\\17 3\\18 3.3\\25 1.9\\30 1.1\\36 .6\\47 0\\}
\C{25}{0 4\\19 3.9\\23 3.1\\24 2.4\\31 2\\36 1.2\\41 .8\\47 .3\\52 0\\}
\C{24}{0 4\\12 4\\12 5.4\\12 4\\23 3.9\\27 3\\28 2.7\\35 2.2\\40 1.3\\46 .4\\52 0\\}
\C{23}{0 4\\25 3.9\\29 3\\30 3.3\\36 2\\41 1.2\\46 .7\\54 0\\}
\C{22}{0 4\\16 3.8\\20 3\\21 3.3\\28 1.8\\33 1.2\\38 .8\\44 .3\\49 0\\}
\C{21}{0 4\\21 4\\21 5.1\\21 3.9\\26 3\\27 2.5\\34 2.1\\39 1.2\\44 .8\\50 0\\}
\C{20}{0 4\\18 3.9\\22 3.1\\23 2.7\\29 2\\34 1.2\\40 .7\\49 0\\}
\C{19}{0 4\\14 3.9\\18 3\\19 2.6\\26 1.9\\31 1.1\\36 .8\\42 .3\\48 0\\}
\C{18}{0 4\\10 4\\10 4.6\\10 4\\22 3.9\\26 3.1\\27 2.4\\34 2\\39 1.3\\45 .4\\51 0\\}
\C{17}{0 4\\24 3.9\\28 3\\29 3.3\\35 1.9\\40 1.2\\46 .7\\52 0\\}
\C{16}{0 4\\18 3.9\\22 3\\23 2.7\\30 2.1\\35 1.2\\40 .8\\46 .3\\51 0\\}
\C{15}{0 4\\13 4\\13 5\\13 4\\24 3.9\\28 3\\29 3.3\\36 1.9\\41 1.2\\47 .4\\52 0\\}
\C{14}{0 4\\22 3.9\\26 3.1\\27 2.6\\33 2\\38 1.1\\44 .6\\51 0\\}
\C{13}{0 4\\20 3.9\\24 3\\25 2.5\\32 2.2\\37 1.3\\42 .8\\48 .3\\52 0\\}
\C{12}{0 4\\16 4\\16 5.1\\16 4\\22 3.8\\26 3\\27 2.4\\34 1.9\\39 1.1\\45 .3\\50 0\\}
\C{11}{0 4\\25 3.9\\29 3\\30 3.3\\36 1.9\\41 1.2\\46 .7\\52 0\\}
\C{10}{0 4\\19 4\\19 4.7\\19 4\\25 3.9\\29 3\\30 2.6\\37 2.1\\42 1.3\\47 .4\\52 0\\}
\C{9}{0 4\\14 3.9\\18 3.1\\19 2.6\\26 2\\31 1.2\\36 .8\\42 .3\\48 0\\}
\C{8}{0 4\\23 3.9\\27 3\\28 3.3\\34 2.2\\38 2.4\\43 1.2\\51 0\\}
\C{7}{0 4\\22 3.9\\26 3\\27 2.4\\34 2\\39 1.2\\44 .8\\48 .3\\52 0\\}
\C{6}{0 4\\24 3.8\\28 3\\29 3.3\\36 1.9\\40 1.2\\44 .8\\48 .3\\51 0\\}
\C{5}{0 4\\20 3.9\\24 3.4\\26 3\\29 3.3\\33 2.4\\37 2.7\\42 1.3\\47 .5\\51 0\\}
\C{4}{0 4\\20 3.9\\25 3.3\\30 3.1\\34 2.5\\35 2.8\\42 1.6\\46 .9\\50 .4\\53 0\\}
\C{3}{0 4\\22 3.9\\26 3.4\\30 2.6\\31 2.9\\37 2.2\\38 2.5\\44 1.1\\48 .4\\52 0\\}
\C{2}{0 4\\21 3.9\\25 3.5\\28 3.2\\29 2.8\\35 2.3\\36 2.6\\42 1.4\\46 .7\\50 0\\}
\C{1}{0 4\\18 3.9\\24 3.6\\27 3\\28 3.3\\33 2.1\\34 2.4\\40 1.3\\44 1\\48 0\\}
\end{axis}
% ---------- texts
\T{46}{14}{squared error}
\T{33}{56}{10}\T{38}{141}{5}\T{38}{226}{0}\T{28}{231}{0}
\T{50}{248}{1000}\T{81}{266}{2000}\T{57}{284}{learning iterations}\T{112}{283}{3000}\T{143}{301}{4000}\T{174}{318}{5000}
\T{225}{322}{100}\T{356}{298}{50}\T{375}{312}{trials (seed no.)}\T{485}{272}{0}
\node[font=\fontsize{19}{20}\selectfont] at (261pt,1070pt-356pt) {(a)};
\T{47}{388}{squared error}
\T{37}{431}{10}\T{39}{517}{5}\T{39}{600}{0}\T{29}{604}{0}
\T{78}{633}{50}\T{58}{657}{learning iterations}\T{127}{662}{100}\T{178}{691}{150}
\T{226}{696}{100}\T{357}{671}{50}\T{376}{685}{trials (seed no.)}\T{485}{646}{0}
\node[font=\fontsize{19}{20}\selectfont] at (261pt,1070pt-729pt) {(b)};
\T{36}{763}{10}\T{39}{848}{5}\T{38}{933}{0}\T{28}{938}{0}
\T{78}{966}{50}\T{57}{991}{learning iterations}\T{127}{995}{100}\T{178}{1024}{150}
\T{226}{1029}{100}\T{357}{1003}{50}\T{376}{1018}{trials (seed no.)}\T{485}{978}{0}
\node[font=\fontsize{19}{20}\selectfont] at (261pt,1070pt-1062pt) {(c)};
\end{tikzpicture}
\end{document}
